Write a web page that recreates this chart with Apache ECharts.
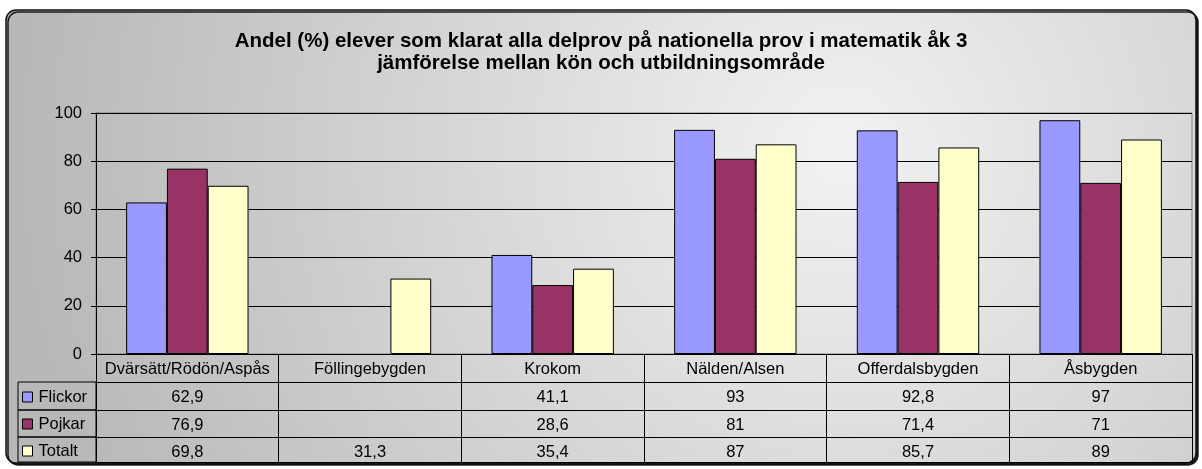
<!DOCTYPE html>
<html>
<head>
<meta charset="utf-8">
<script src="https://cdn.jsdelivr.net/npm/echarts@6/dist/echarts.min.js"></script>
<style>
  html, body { margin: 0; padding: 0; background: #fff; }
  #chart { width: 1202px; height: 469px; }
</style>
</head>
<body>
<div id="chart"></div>
<script>
// --- data -------------------------------------------------------------------
const categories = ["Dvärsätt/Rödön/Aspås", "Föllingebygden", "Krokom", "Nälden/Alsen", "Offerdalsbygden", "Åsbygden"];
const flickor = [62.9, null, 41.1, 93, 92.8, 97];
const pojkar = [76.9, null, 28.6, 81, 71.4, 71];
const totalt = [69.8, 31.3, 35.4, 87, 85.7, 89];
const seriesNames = ["Flickor", "Pojkar", "Totalt"];
const yTicks = { min: 0, max: 100, interval: 20 };

// --- look -------------------------------------------------------------------
const FONT = 'Arial, "Liberation Sans", sans-serif';
const FS = 16.5;
const COLORS = ["#9999FF", "#993366", "#FFFFCC"];
const ROWS = [flickor, pojkar, totalt];

const fmt = (v) => (v == null ? "" : String(v).replace(".", ","));

// one category axis per data-table row; axis line = row top, ticks = cell walls
function rowAxis(offset, tickLen, values) {
  return {
    type: "category",
    data: categories,
    position: "bottom",
    offset,
    axisLine: { show: true, lineStyle: { color: "#000", width: 1 } },
    axisTick: { show: true, length: tickLen, lineStyle: { color: "#000" } },
    axisLabel: {
      interval: 0, margin: 6.5, fontSize: FS, color: "#000", fontFamily: FONT,
      formatter: values ? (v, i) => fmt(values[i]) : undefined,
    },
    splitLine: { show: false },
  };
}

const chart = echarts.init(document.getElementById("chart"), null, { renderer: "canvas" });

chart.setOption({
  animation: false,
  textStyle: { fontFamily: FONT },
  title: {
    text: "Andel (%) elever som klarat alla delprov på nationella prov i matematik åk 3\njämförelse mellan kön och utbildningsområde",
    left: "center",
    top: 30,
    padding: 0,
    textStyle: { fontSize: 20.5, fontWeight: "bold", color: "#000", lineHeight: 22, fontFamily: FONT },
  },
  legend: {
    orient: "vertical",
    left: 22,
    top: 388,
    padding: 0,
    itemWidth: 10,
    itemHeight: 10,
    itemGap: 9,
    icon: "rect",
    data: seriesNames,
    textStyle: { fontSize: FS, color: "#000", lineHeight: 18, fontFamily: FONT, padding: [0, 0, 0, 1] },
    itemStyle: { borderColor: "#000", borderWidth: 1 },
  },
  graphic: [
    {
      type: "rect", z: -10, silent: true,
      shape: { x: 6, y: 10, width: 1190, height: 453, r: 10 },
      style: {
        fill: new echarts.graphic.RadialGradient(840, 150, 820, [
          { offset: 0, color: "#f2f2f2" },
          { offset: 1, color: "#b8b8b8" },
        ], true),
        stroke: "#111", lineWidth: 1.5,
        shadowColor: "rgba(0,0,0,0.85)", shadowBlur: 0, shadowOffsetX: 2, shadowOffsetY: 2,
      },
    },
    // legend column cells of the data table
    { type: "rect", silent: true, shape: { x: 18, y: 382, width: 78, height: 28 }, style: { fill: null, stroke: "#000", lineWidth: 1 } },
    { type: "rect", silent: true, shape: { x: 18, y: 410, width: 78, height: 27 }, style: { fill: null, stroke: "#000", lineWidth: 1 } },
    { type: "rect", silent: true, shape: { x: 18, y: 437, width: 78, height: 25 }, style: { fill: null, stroke: "#000", lineWidth: 1 } },
  ],
  grid: {
    left: 96, right: 10, top: 113, bottom: 115,
    show: true, borderColor: "#808080", borderWidth: 1, backgroundColor: "transparent",
  },
  xAxis: [
    rowAxis(0, 28, null),
    rowAxis(28, 28, flickor),
    rowAxis(56, 27, pojkar),
    rowAxis(83, 25, totalt),
    { type: "category", data: categories, position: "bottom", offset: 108,
      axisLine: { show: true, lineStyle: { color: "#000" } }, axisTick: { show: false },
      axisLabel: { show: false }, splitLine: { show: false } },
  ],
  yAxis: {
    type: "value",
    min: yTicks.min, max: yTicks.max, interval: yTicks.interval,
    axisLine: { show: true, lineStyle: { color: "#000" } },
    axisTick: { show: true, length: 5, lineStyle: { color: "#000" } },
    axisLabel: { fontSize: FS, color: "#000", margin: 14, fontFamily: FONT },
    splitLine: { show: true, lineStyle: { color: "#000", width: 1 } },
  },
  series: ROWS.map((vals, i) => ({
    name: seriesNames[i],
    type: "bar",
    xAxisIndex: 0,
    data: vals,
    barGap: "0%",
    barCategoryGap: "33%",
    itemStyle: { color: COLORS[i], borderColor: "#000", borderWidth: 1 },
  })),
});
</script>
</body>
</html>
